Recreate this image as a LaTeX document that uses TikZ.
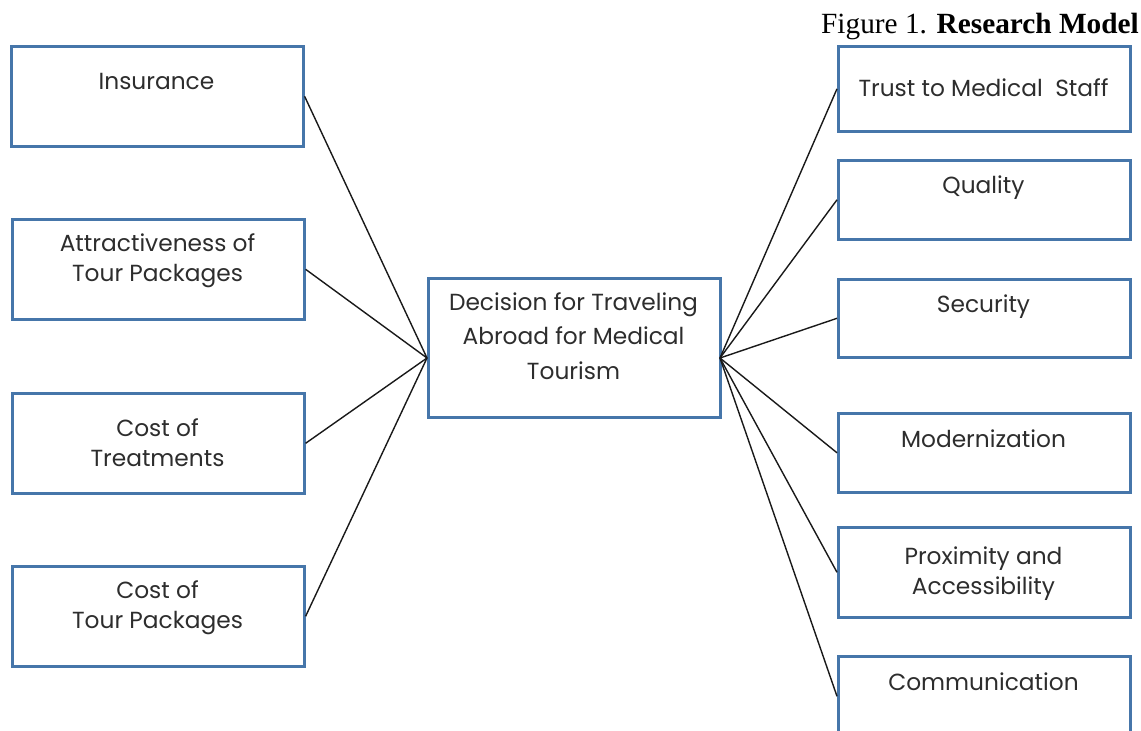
\documentclass[tikz,border=0pt]{standalone}
\usepackage{fontspec}
\setmainfont{Poppins}
\newfontfamily\titlefont{Liberation Serif}
\definecolor{boxblue}{RGB}{70,118,170}
\definecolor{txt}{RGB}{45,45,45}
\begin{document}
\begin{tikzpicture}[x=1pt,y=-1pt,
  box/.style={draw=boxblue,line width=2.6pt,rectangle,minimum width=292pt,anchor=north west,inner sep=0pt},
  lbl/.style={text=txt,font=\fontsize{23.3}{30}\selectfont,align=center,inner sep=0pt,anchor=base},
  conn/.style={draw=black!90,line width=1.4pt}]
\useasboundingbox (0,0) rectangle (1141,731);
\clip (0,0) rectangle (1141,731);
% title
\node[anchor=base east,inner sep=0pt,font=\titlefont\fontsize{29.3}{30}\selectfont] (title) at (1139,33) {Figure 1. \textbf{Research Model}};
% left boxes
\node[box,minimum height=100pt] (ins) at (10,45) {};
\node[lbl] (insT) at (156.5,89) {Insurance};
\node[box,minimum height=100pt] (att) at (11,218) {};
\node[lbl] (attT) at (157.5,281) {Attractiveness of\\Tour Packages};
\node[box,minimum height=100pt] (cot) at (11,392) {};
\node[lbl] (cotT) at (157.5,466) {Cost of\\Treatments};
\node[box,minimum height=100pt] (ctp) at (11,565) {};
\node[lbl] (ctpT) at (157.5,628) {Cost of\\Tour Packages};
% center
\node[box,minimum height=139pt] (dec) at (427,277) {};
\node[lbl,font=\fontsize{23.3}{34.5}\selectfont] (decT) at (573.5,379) {Decision for Traveling\\Abroad for Medical\\Tourism};
\coordinate (decL) at (427,358);
\coordinate (decR) at (720,358);
% right boxes
\node[box,minimum height=85pt] (tru) at (837,45) {};
\node[lbl] (truT) at (983.5,96) {Trust to Medical~~Staff};
\node[box,minimum height=79pt] (qua) at (837,159) {};
\node[lbl] (quaT) at (983.5,193) {Quality};
\node[box,minimum height=78pt] (sec) at (837,278) {};
\node[lbl] (secT) at (983.5,312) {Security};
\node[box,minimum height=79pt] (mod) at (837,412) {};
\node[lbl] (modT) at (983.5,447) {Modernization};
\node[box,minimum height=90pt] (pro) at (837,526) {};
\node[lbl] (proT) at (983.5,594) {Proximity and\\Accessibility};
\node[box,minimum height=80pt] (com) at (837,655) {};
\node[lbl] (comT) at (983.5,690) {Communication};
% connectors
\foreach \n in {ins,att,cot,ctp} \draw[conn] (\n.east) -- (decL);
\foreach \n in {tru,qua,sec,mod,pro,com} \draw[conn] (decR) -- (\n.west);
\end{tikzpicture}
\end{document}
